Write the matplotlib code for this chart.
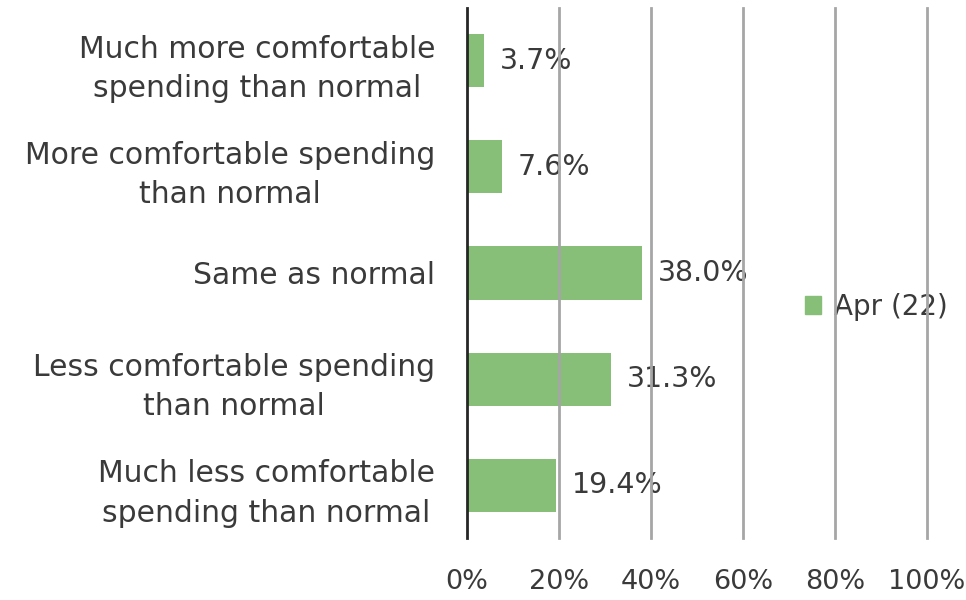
import matplotlib
matplotlib.use("Agg")
import matplotlib.pyplot as plt
from matplotlib.patches import Patch
import numpy as np

plt.rcParams['font.family'] = ['DejaVu Sans']

# data
categories = ["Much more comfortable\nspending than normal",
              "More comfortable spending\nthan normal",
              "Same as normal",
              "Less comfortable spending\nthan normal",
              "Much less comfortable\nspending than normal"]
values = [3.7, 7.6, 38.0, 31.3, 19.4]
series_name = "Apr (22)"
xticks = [0, 20, 40, 60, 80, 100]

green = "#88bf78"
text_col = "#3a3a3a"

fig = plt.figure(figsize=(9.66, 6.0), dpi=100)
ax = fig.add_axes([0.4834, 0.103, 0.4762, 0.884])

y = np.arange(len(categories))
ax.barh(y, values, height=0.5, color=green, zorder=2)

for yi, v in zip(y, values):
    ax.text(v + 3.5, yi, "%.1f%%" % v, va='center', ha='left',
            fontsize=20.5, color=text_col, zorder=3)

# gridlines on top
for t in xticks[1:]:
    ax.axvline(t, color="#a6a6a6", lw=2, zorder=5, clip_on=False)
ax.axvline(0, color="#262626", lw=2, zorder=6, clip_on=False)

ax.set_xlim(0, 100)
ax.set_ylim(4.5, -0.5)
ax.set_yticks(y)
ax.set_yticklabels(categories, fontsize=21.5, color=text_col,
                   linespacing=1.45, multialignment='center')
ax.set_xticks(xticks)
ax.set_xticklabels(["%d%%" % t for t in xticks], fontsize=19.5, color=text_col)
ax.tick_params(axis='both', length=0)
ax.tick_params(axis='x', pad=22)
ax.tick_params(axis='y', pad=23)
for s in ax.spines.values():
    s.set_visible(False)

leg = ax.legend(handles=[Patch(color=green, label=series_name)],
                loc='center left', bbox_to_anchor=(0.68, 0.436),
                frameon=False, fontsize=20, handlelength=0.6,
                handleheight=0.6, handletextpad=0.45)
leg.set_zorder(1)
for txt in leg.get_texts():
    txt.set_color(text_col)

fig.savefig("out.png", dpi=100)
